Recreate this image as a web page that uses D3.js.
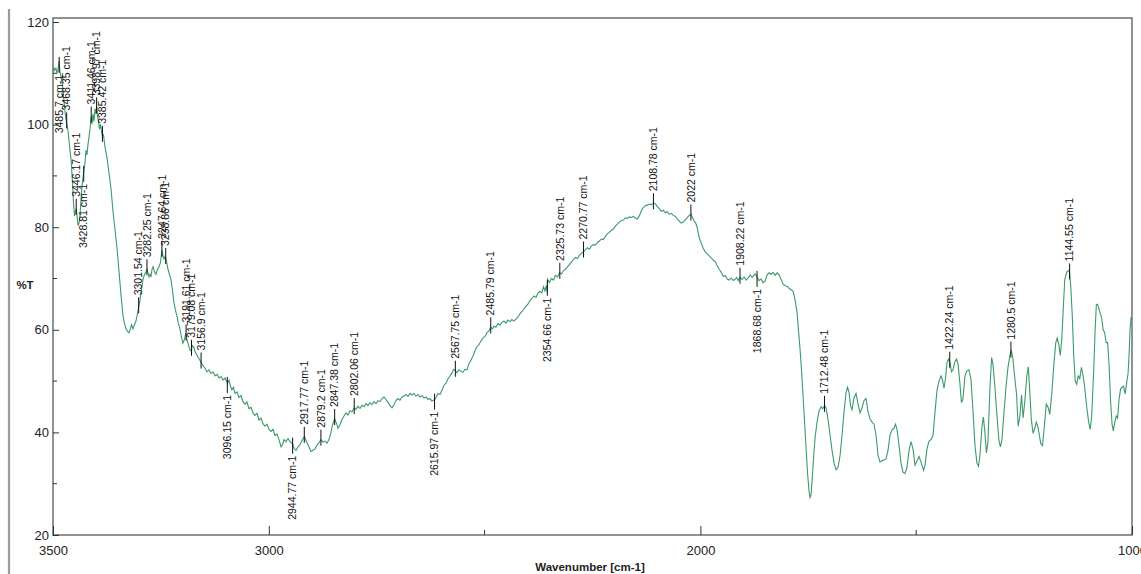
<!DOCTYPE html>
<html>
<head>
<meta charset="utf-8">
<script src="https://cdn.jsdelivr.net/npm/d3@7"></script>
<style>
  body { margin: 0; background: #fff; }
  svg { display: block; }
  .axis-label { font-family: "Liberation Sans Narrow", "Arial Narrow", "Liberation Sans", Arial, sans-serif; }
  .peak-label { font-family: "Liberation Sans", Arial, sans-serif; font-size: 10.5px; fill: #111; }
</style>
</head>
<body>
<svg id="chart" width="1141" height="574"></svg>
<script>
// FTIR spectrum: wavenumber (cm-1) and transmittance (%T)
const wavenumber = [
  3500, 3498.5, 3496.1, 3493.2, 3490.7, 3488.4, 3486.1, 3484.0, 3481.5, 3478.0,
  3475.7, 3472.8, 3470.3, 3468.3, 3465.2, 3461.8, 3458.3, 3454.8, 3452.5, 3450.2,
  3447.9, 3446.2, 3444.3, 3442.0, 3439.7, 3437.4, 3435.1, 3432.8, 3429.3, 3425.9,
  3423.6, 3421.3, 3419.0, 3416.6, 3414.3, 3411.5, 3409.6, 3407.3, 3405.0, 3402.7,
  3400.4, 3398.7, 3396.9, 3394.6, 3392.3, 3390.0, 3387.6, 3385.5, 3383.0, 3379.5,
  3374.8, 3370.2, 3365.6, 3360.9, 3356.3, 3351.7, 3347.0, 3342.4, 3337.8, 3334.3,
  3330.9, 3327.4, 3323.9, 3321.6, 3318.1, 3314.6, 3311.2, 3307.7, 3304.2, 3301.5,
  3298.5, 3295.0, 3291.5, 3288.1, 3284.6, 3282.2, 3279.9, 3277.6, 3275.3, 3273.0,
  3270.6, 3268.3, 3264.9, 3261.4, 3257.9, 3254.5, 3251.0, 3247.5, 3245.2, 3242.9,
  3240.6, 3238.3, 3236.0, 3233.6, 3230.2, 3226.7, 3223.3, 3219.8, 3216.3, 3212.9,
  3209.4, 3205.9, 3202.5, 3199.0, 3195.5, 3192.2, 3189.8, 3186.3, 3182.9, 3179.6,
  3177.1, 3173.6, 3170.2, 3166.7, 3163.3, 3159.8, 3156.8, 3152.5, 3147.8, 3143.2,
  3138.6, 3133.9, 3129.3, 3124.6, 3120.0, 3115.4, 3110.7, 3106.1, 3101.5, 3095.9,
  3092.2, 3088.7, 3085.3, 3081.8, 3078.3, 3073.7, 3069.1, 3064.4, 3059.8, 3055.2,
  3050.5, 3045.9, 3041.3, 3036.6, 3032.0, 3027.4, 3022.7, 3018.1, 3013.5, 3008.8,
  3004.2, 2999.5, 2994.9, 2990.3, 2985.6, 2981.0, 2976.4, 2971.7, 2968.3, 2964.8,
  2960.2, 2955.5, 2950.9, 2944.6, 2941.6, 2937.0, 2932.3, 2927.7, 2923.1, 2917.3,
  2913.8, 2910.4, 2906.9, 2902.3, 2897.6, 2893.0, 2888.4, 2883.7, 2879.1, 2874.5,
  2869.8, 2865.2, 2860.6, 2855.9, 2852.4, 2847.4, 2843.2, 2839.7, 2835.1, 2830.5,
  2825.8, 2821.2, 2816.5, 2811.9, 2807.3, 2801.7, 2798.0, 2793.4, 2788.7, 2784.1,
  2779.5, 2774.8, 2770.2, 2765.6, 2760.9, 2756.3, 2751.7, 2747.0, 2742.4, 2737.8,
  2733.1, 2728.5, 2723.9, 2719.2, 2714.6, 2710.0, 2705.3, 2700.7, 2696.1, 2691.4,
  2686.8, 2682.2, 2677.5, 2672.9, 2668.3, 2663.6, 2659.0, 2654.4, 2649.7, 2645.1,
  2640.5, 2635.8, 2631.2, 2626.6, 2621.9, 2615.7, 2612.7, 2608.1, 2603.4, 2598.8,
  2594.2, 2589.5, 2584.9, 2580.3, 2575.6, 2572.2, 2567.5, 2564.1, 2559.5, 2554.8,
  2550.2, 2545.6, 2540.9, 2536.3, 2531.7, 2527.0, 2522.4, 2517.8, 2513.1, 2508.5,
  2503.9, 2499.2, 2494.6, 2490.0, 2485.6, 2481.9, 2478.4, 2473.8, 2469.2, 2464.5,
  2459.9, 2455.3, 2450.6, 2446.0, 2441.3, 2436.7, 2432.1, 2427.4, 2422.8, 2418.2,
  2413.5, 2408.9, 2404.3, 2399.6, 2395.0, 2390.4, 2385.7, 2381.1, 2376.5, 2371.8,
  2367.2, 2363.7, 2360.3, 2357.2, 2355.5, 2353.8, 2349.9, 2345.3, 2340.7, 2336.0,
  2331.4, 2325.9, 2322.2, 2317.5, 2312.9, 2308.3, 2303.6, 2299.0, 2294.4, 2289.7,
  2285.1, 2280.5, 2275.8, 2270.1, 2266.6, 2262.0, 2257.4, 2252.7, 2248.1, 2243.5,
  2238.8, 2234.2, 2229.6, 2224.9, 2220.3, 2215.7, 2211.0, 2206.4, 2201.8, 2197.1,
  2192.5, 2187.9, 2183.2, 2178.6, 2174.0, 2169.3, 2164.7, 2160.1, 2155.4, 2150.8,
  2146.2, 2141.5, 2136.9, 2132.3, 2127.6, 2123.0, 2118.4, 2113.7, 2108.0, 2104.5,
  2099.9, 2095.3, 2090.6, 2086.0, 2081.4, 2076.7, 2072.1, 2067.5, 2062.8, 2058.2,
  2053.6, 2048.9, 2044.3, 2039.7, 2035.0, 2030.4, 2025.8, 2021.5, 2018.9, 2014.3,
  2010.8, 2007.4, 2002.7, 1998.1, 1993.5, 1988.8, 1984.2, 1979.6, 1974.9, 1970.3,
  1965.7, 1961.0, 1956.4, 1951.8, 1947.1, 1942.5, 1937.9, 1933.2, 1928.6, 1924.0,
  1919.3, 1915.9, 1912.5, 1907.9, 1903.2, 1898.6, 1894.0, 1889.3, 1884.7, 1880.1,
  1877.1, 1873.2, 1868.6, 1864.0, 1859.4, 1854.7, 1850.1, 1845.4, 1840.8, 1836.2,
  1831.5, 1826.9, 1822.3, 1817.6, 1813.0, 1808.4, 1803.7, 1799.1, 1794.5, 1789.8,
  1785.2, 1780.6, 1775.9, 1772.5, 1769.0, 1765.6, 1762.1, 1758.6, 1755.2, 1751.7,
  1748.2, 1745.9, 1743.6, 1741.3, 1737.8, 1734.3, 1729.7, 1725.1, 1720.4, 1716.9,
  1712.3, 1708.9, 1704.2, 1699.6, 1695.0, 1690.3, 1685.7, 1681.1, 1676.4, 1671.8,
  1667.2, 1662.5, 1659.1, 1655.6, 1652.1, 1648.7, 1644.0, 1639.4, 1634.8, 1630.1,
  1625.5, 1620.9, 1616.2, 1611.6, 1607.0, 1602.3, 1597.7, 1593.1, 1588.4, 1583.8,
  1579.2, 1574.5, 1569.9, 1565.3, 1560.6, 1556.0, 1551.4, 1547.9, 1544.4, 1539.8,
  1535.2, 1530.5, 1525.9, 1521.3, 1516.6, 1512.0, 1507.4, 1502.7, 1498.1, 1493.5,
  1488.8, 1483.0, 1479.6, 1475.0, 1470.3, 1465.7, 1461.1, 1456.4, 1451.8, 1447.2,
  1442.5, 1439.1, 1435.6, 1432.1, 1428.7, 1425.2, 1421.8, 1418.3, 1414.9, 1410.2,
  1406.8, 1403.3, 1398.7, 1395.2, 1391.7, 1387.1, 1382.5, 1377.8, 1373.2, 1368.6,
  1363.9, 1359.3, 1355.8, 1352.4, 1347.7, 1344.3, 1340.8, 1337.3, 1333.9, 1329.2,
  1325.3, 1322.3, 1317.7, 1313.1, 1308.4, 1305.0, 1301.5, 1296.9, 1292.3, 1287.6,
  1283.0, 1279.6, 1276.1, 1271.5, 1267.5, 1263.8, 1259.9, 1256.0, 1252.3, 1248.4,
  1243.7, 1240.3, 1236.8, 1233.3, 1229.2, 1225.2, 1221.8, 1218.3, 1214.8, 1211.4,
  1207.4, 1203.3, 1198.6, 1194.0, 1190.5, 1185.9, 1181.3, 1176.6, 1173.2, 1169.7,
  1166.2, 1162.8, 1159.3, 1155.8, 1151.2, 1145.2, 1141.9, 1138.5, 1135.0, 1131.5,
  1128.1, 1124.6, 1121.1, 1117.2, 1113.1, 1109.6, 1105.0, 1100.4, 1096.9, 1093.5,
  1088.8, 1085.4, 1082.6, 1079.6, 1075.0, 1070.3, 1066.9, 1063.4, 1060.0, 1056.5,
  1053.0, 1049.6, 1046.1, 1043.3, 1040.3, 1036.4, 1033.4, 1029.9, 1026.4, 1023.0,
  1019.5, 1016.0, 1012.6, 1009.1, 1006.8, 1004.5, 1002.2, 1001.0
];

const transmittance = [
  110.4, 111.2, 110.6, 111.0, 110.1, 110.6, 112.4, 110.4, 109.3, 107.6,
  105.5, 103.0, 101.2, 100.4, 98.8, 95.9, 93.3, 88.7, 84.7, 82.2,
  83.0, 83.6, 82.3, 80.3, 80.8, 82.3, 85.3, 88.0, 90.5, 92.5,
  95.0, 94.1, 96.1, 97.6, 99.1, 101.6, 100.1, 102.1, 100.6, 103.1,
  102.1, 103.6, 101.6, 100.6, 99.1, 100.1, 98.6, 97.8, 98.0, 95.6,
  93.5, 90.5, 87.5, 83.0, 79.5, 75.9, 71.3, 66.8, 62.7, 61.2,
  60.2, 59.7, 59.4, 59.9, 61.0, 60.2, 61.0, 61.7, 63.2, 64.4,
  65.8, 67.8, 69.8, 70.8, 71.3, 71.8, 71.1, 70.3, 70.8, 70.3,
  71.8, 72.3, 71.3, 70.8, 71.8, 72.3, 73.1, 75.5, 74.3, 73.8,
  74.3, 73.9, 72.8, 71.8, 70.8, 69.8, 67.8, 65.3, 63.8, 62.7,
  61.2, 60.2, 58.6, 57.4, 58.1, 59.4, 58.1, 57.1, 56.1, 55.9,
  56.9, 56.6, 55.6, 55.1, 54.6, 54.1, 53.6, 53.0, 52.5, 51.8,
  52.2, 51.5, 51.8, 51.0, 51.3, 50.6, 50.9, 50.2, 50.6, 49.6,
  50.2, 49.0, 48.3, 48.8, 47.6, 47.9, 46.8, 47.2, 46.0, 45.5,
  45.9, 44.6, 44.9, 43.8, 43.3, 43.7, 42.4, 42.8, 41.7, 41.2,
  41.6, 40.6, 40.2, 40.6, 39.4, 39.7, 38.6, 37.2, 37.6, 38.6,
  38.2, 38.8, 38.2, 37.8, 36.9, 36.5, 37.2, 37.6, 38.4, 39.2,
  38.4, 37.8, 37.2, 36.3, 36.5, 36.8, 37.5, 38.0, 38.6, 38.1,
  38.3, 37.9, 38.6, 40.0, 41.5, 42.6, 41.8, 40.8, 41.5, 42.5,
  43.2, 43.8, 43.4, 44.2, 44.0, 44.8, 44.5, 45.1, 44.7, 45.3,
  45.0, 45.6, 45.2, 45.8, 45.4, 46.0, 45.6, 46.2, 46.0, 46.6,
  46.9, 46.4, 45.9, 45.2, 44.8, 45.4, 46.2, 46.6, 46.3, 46.9,
  47.1, 47.4, 47.0, 47.6, 47.3, 47.6, 47.1, 47.4, 46.9, 47.2,
  46.7, 46.9, 46.4, 46.6, 46.1, 46.4, 46.8, 47.6, 47.4, 48.2,
  49.2, 49.6, 50.4, 51.0, 51.6, 52.3, 52.0, 51.6, 52.2, 51.9,
  51.7, 52.3, 52.2, 53.4, 54.0, 54.9, 55.9, 56.7, 57.1, 57.8,
  58.4, 58.7, 59.4, 59.8, 60.5, 60.2, 60.7, 60.5, 61.2, 60.9,
  61.4, 61.7, 61.3, 61.9, 61.6, 62.0, 61.7, 62.1, 62.5, 63.1,
  63.6, 64.0, 64.6, 65.0, 65.7, 66.1, 66.6, 66.3, 67.1, 67.5,
  67.2, 68.4, 67.6, 68.6, 67.4, 69.8, 69.2, 70.0, 69.7, 70.6,
  70.3, 71.1, 70.9, 71.5, 71.8, 72.2, 72.7, 73.2, 73.7, 74.1,
  73.9, 74.5, 74.9, 75.3, 75.6, 76.0, 75.7, 76.3, 76.6, 76.5,
  77.0, 77.3, 77.7, 77.6, 78.2, 78.7, 79.0, 79.4, 79.6, 80.2,
  80.6, 81.0, 81.3, 81.4, 81.8, 81.7, 82.0, 81.9, 82.1, 81.8,
  81.6, 82.2, 83.2, 83.8, 84.2, 84.3, 84.5, 84.4, 84.7, 84.6,
  84.0, 83.6, 83.1, 83.3, 82.8, 83.0, 82.5, 82.7, 82.3, 82.1,
  81.6, 81.2, 80.8, 81.0, 81.4, 81.9, 82.3, 82.5, 82.0, 81.2,
  80.8, 79.9, 77.9, 76.9, 75.9, 75.2, 74.8, 74.4, 74.0, 73.6,
  73.3, 72.5, 71.8, 71.2, 70.4, 70.6, 69.9, 69.7, 70.1, 69.6,
  69.9, 70.2, 69.6, 70.2, 69.8, 70.3, 69.7, 70.1, 70.7, 70.2,
  70.5, 70.9, 70.3, 69.6, 69.9, 69.2, 69.5, 70.7, 71.1, 70.8,
  71.2, 70.6, 71.1, 70.7, 69.8, 68.9, 68.6, 68.5, 68.1, 67.8,
  67.5, 65.8, 63.2, 59.7, 56.1, 52.0, 47.0, 42.0, 37.0, 32.0,
  28.5, 27.3, 27.8, 30.5, 35.0, 39.0, 42.0, 44.2, 45.0, 44.6,
  45.2, 44.8, 42.5, 39.5, 36.5, 34.0, 32.7, 33.2, 35.5, 39.5,
  44.0, 47.8, 48.8, 47.8, 45.2, 44.4, 46.8, 47.6, 45.5, 43.8,
  44.8, 46.2, 46.6, 44.0, 42.6, 42.0, 41.6, 39.5, 35.5, 34.2,
  34.5, 34.6, 34.9, 36.5, 39.5, 40.5, 40.8, 41.6, 40.6, 37.5,
  34.0, 32.2, 32.0, 33.2, 36.5, 38.2, 36.8, 33.6, 34.5, 35.3,
  34.2, 32.6, 33.5, 36.8, 38.3, 38.6, 39.4, 44.0, 48.2, 50.0,
  51.0, 50.3, 48.6, 50.5, 53.6, 54.3, 53.7, 51.8, 52.2, 53.8,
  54.3, 53.5, 49.5, 45.8, 46.5, 51.0, 52.0, 52.2, 50.5, 44.5,
  37.5, 34.0, 33.4, 35.5, 41.0, 43.0, 40.0, 36.0, 38.0, 48.5,
  54.6, 53.4, 49.0, 43.5, 38.5, 37.2, 38.5, 43.5, 48.5, 52.5,
  55.0, 56.0, 54.5, 50.5, 47.5, 41.2, 43.0, 47.3, 42.8, 46.0,
  51.0, 52.8, 48.0, 42.5, 39.8, 40.8, 42.0, 41.2, 39.5, 37.8,
  37.4, 41.0, 45.5, 44.8, 43.5, 47.5, 53.0, 57.5, 58.4, 57.2,
  55.0, 58.0, 64.0, 69.8, 71.3, 71.6, 68.5, 63.0, 55.0, 50.0,
  49.4, 51.0, 50.5, 52.7, 51.0, 48.8, 45.0, 42.0, 40.6, 43.0,
  52.0, 60.0, 64.9, 65.0, 63.6, 62.3, 60.0, 59.5, 57.5, 57.5,
  53.0, 46.0, 41.5, 40.3, 41.8, 43.2, 42.8, 46.5, 48.5, 48.8,
  49.0, 47.5, 49.5, 51.5, 55.0, 60.0, 62.5, 62.0
];

// Peak picks and whether their label sits above or below the trace
const peakWavenumbers = [
  3485.7, 3468.35, 3446.17, 3428.81, 3411.46, 3398.97, 3385.42, 3301.54, 3282.25,
  3247.64, 3238.86, 3191.61, 3179.08, 3156.9, 3096.15, 2944.77, 2917.77, 2879.2,
  2847.38, 2802.06, 2615.97, 2567.75, 2485.79, 2354.66, 2325.73, 2270.77, 2108.78,
  2022, 1908.22, 1868.68, 1712.48, 1422.24, 1280.5, 1144.55
];
const peakSides = [
  "below", "above", "above", "below", "above", "above", "above", "above", "above",
  "above", "above", "above", "above", "above", "below", "below", "above", "above",
  "above", "above", "below", "above", "above", "below", "above", "above", "above",
  "above", "above", "below", "above", "above", "above", "above"
];

const xTicks = [3500, 3000, 2000, 1000];
const xMinorTicks = [2500, 1500];
const yTicks = [20, 40, 60, 80, 100, 120];
const yMinorTicks = [30, 50, 70, 90, 110];

const svg = d3.select("#chart");
const plotLeft = 53, plotRight = 1132, plotTop = 18, plotBottom = 535;

const x = d3.scaleLinear().domain([3500, 1000]).range([plotLeft, plotRight]);
const y = d3.scaleLinear().domain([20, 120]).range([plotBottom, 22]);

// outer grey rule on the far left
svg.append("line")
  .attr("x1", 9).attr("x2", 9).attr("y1", 9).attr("y2", 574)
  .attr("stroke", "#9b9b9b").attr("stroke-width", 2.2);

// plot frame
svg.append("rect")
  .attr("x", plotLeft).attr("y", plotTop)
  .attr("width", plotRight - plotLeft).attr("height", plotBottom - plotTop)
  .attr("fill", "none").attr("stroke", "#4a4a4a").attr("stroke-width", 1.2);

// x axis
const xAxis = d3.axisBottom(x).tickValues(xTicks).tickFormat(d3.format("d"))
  .tickSizeInner(-9).tickSizeOuter(0).tickPadding(11);
const gx = svg.append("g").attr("transform", `translate(0,${plotBottom})`).call(xAxis);
gx.select(".domain").remove();
gx.selectAll(".tick line").attr("stroke", "#333");
gx.selectAll(".tick text").attr("class", "axis-label").attr("font-size", 13).attr("fill", "#222");

svg.append("g").selectAll("line").data(xMinorTicks).join("line")
  .attr("x1", d => x(d)).attr("x2", d => x(d))
  .attr("y1", plotBottom).attr("y2", plotBottom - 5)
  .attr("stroke", "#333");

// y axis
const yAxis = d3.axisLeft(y).tickValues(yTicks).tickFormat(d3.format("d"))
  .tickSizeInner(-6).tickSizeOuter(0).tickPadding(4);
const gy = svg.append("g").attr("transform", `translate(${plotLeft},0)`).call(yAxis);
gy.select(".domain").remove();
gy.selectAll(".tick line").attr("stroke", "#333");
gy.selectAll(".tick text").attr("class", "axis-label").attr("font-size", 13).attr("fill", "#222");

svg.append("g").selectAll("line").data(yMinorTicks).join("line")
  .attr("x1", plotLeft).attr("x2", plotLeft + 4)
  .attr("y1", d => y(d)).attr("y2", d => y(d))
  .attr("stroke", "#333");

// axis titles
svg.append("text").attr("class", "axis-label")
  .attr("x", 590).attr("y", 571).attr("text-anchor", "middle")
  .attr("font-size", 11.5).attr("font-weight", "bold").attr("fill", "#222")
  .text("Wavenumber [cm-1]");
svg.append("text").attr("class", "axis-label")
  .attr("x", 25).attr("y", 289).attr("text-anchor", "middle")
  .attr("font-size", 11.5).attr("font-weight", "bold").attr("fill", "#222")
  .text("%T");

// spectrum trace
const points = wavenumber.map((w, i) => [w, transmittance[i]]);
svg.append("path")
  .datum(points)
  .attr("fill", "none")
  .attr("stroke", "#3c9a6a")
  .attr("stroke-width", 1.1)
  .attr("d", d3.line().x(d => x(d[0])).y(d => y(d[1])));

// %T of the trace at a given wavenumber (data are in descending order)
function valueAt(w) {
  for (let i = 0; i < wavenumber.length - 1; i++) {
    const a = wavenumber[i], b = wavenumber[i + 1];
    if (w <= a && w >= b) {
      const t = (a - w) / (a - b);
      return transmittance[i] + t * (transmittance[i + 1] - transmittance[i]);
    }
  }
  return transmittance[transmittance.length - 1];
}

// peak markers and rotated labels
const peaks = peakWavenumbers.map((w, i) => ({ w, side: peakSides[i], t: valueAt(w) }));
const gp = svg.append("g");
peaks.forEach(p => {
  const px = x(p.w), py = y(p.t);
  const up = p.side === "above";
  gp.append("line")
    .attr("x1", px).attr("x2", px)
    .attr("y1", up ? py - 10 : py - 6)
    .attr("y2", up ? py + 6 : py + 10)
    .attr("stroke", "#111").attr("stroke-width", 1);
  gp.append("text")
    .attr("class", "peak-label")
    .attr("transform", `translate(${px},${up ? py - 12 : py + 12}) rotate(-90)`)
    .attr("dy", "0.35em")
    .attr("text-anchor", up ? "start" : "end")
    .text(`${p.w} cm-1`);
});
</script>
</body>
</html>
